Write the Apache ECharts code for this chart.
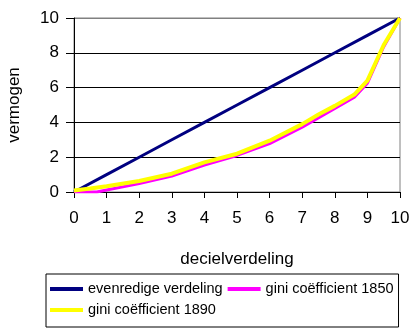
<!DOCTYPE html>
<html><head><meta charset="utf-8">
<script src="https://cdn.jsdelivr.net/npm/echarts@6/dist/echarts.min.js"></script>
<style>html,body{margin:0;padding:0;background:#fff}#c{width:414px;height:332px}</style>
</head><body><div id="c"></div>
<script>
const seriesNames = ['evenredige verdeling', 'gini coëfficient 1850', 'gini coëfficient 1890'];
const evenX = [0, 1, 2, 3, 4, 5, 6, 7, 8, 9, 10];
const evenY = [0, 1, 2, 3, 4, 5, 6, 7, 8, 9, 10];
const gini1850X = [0, 0.7, 1, 2, 3, 4, 5, 6, 7, 8, 8.6, 9, 9.5, 10];
const gini1850Y = [0, 0, 0.12, 0.48, 0.92, 1.55, 2.1, 2.78, 3.72, 4.8, 5.45, 6.25, 8.35, 10];
const gini1890X = [0, 0.5, 1, 2, 3, 4, 5, 6, 7, 7.5, 8, 8.6, 9, 9.5, 10];
const gini1890Y = [0.08, 0.2, 0.33, 0.63, 1.05, 1.7, 2.2, 2.95, 3.9, 4.45, 4.95, 5.6, 6.4, 8.45, 10];
const xTicks = [0, 1, 2, 3, 4, 5, 6, 7, 8, 9, 10];
const yTicks = [0, 2, 4, 6, 8, 10];
const colors = ['#000080', '#FF00FF', '#FFFF00'];

const zip = (xs, ys) => xs.map((x, i) => [x, ys[i]]);
const font = 'Liberation Sans, Arial, sans-serif';
const chart = echarts.init(document.getElementById('c'), null, {renderer: 'canvas'});
chart.setOption({
  animation: false,
  backgroundColor: '#fff',
  grid: {left: 74, right: 14, top: 18, bottom: 140, containLabel: false, outerBoundsMode: 'none',
         show: true, borderColor: '#808080', borderWidth: 1, backgroundColor: 'transparent'},
  xAxis: {
    type: 'value', min: xTicks[0], max: xTicks[xTicks.length - 1], interval: 1,
    name: 'decielverdeling', nameLocation: 'middle', nameGap: 59,
    nameTextStyle: {fontFamily: font, fontSize: 17, color: '#000'},
    axisLine: {show: true, onZero: false, lineStyle: {color: '#000', width: 1}},
    axisTick: {show: true, length: 6, lineStyle: {color: '#000'}},
    axisLabel: {fontFamily: font, fontSize: 17, color: '#000', margin: 18},
    splitLine: {show: false}
  },
  yAxis: {
    type: 'value', min: yTicks[0], max: yTicks[yTicks.length - 1], interval: 2,
    name: 'vermogen', nameLocation: 'middle', nameGap: 51,
    nameTextStyle: {fontFamily: font, fontSize: 17, color: '#000'},
    axisLine: {show: true, lineStyle: {color: '#000', width: 1}},
    axisTick: {show: true, length: 8, lineStyle: {color: '#000'}},
    axisLabel: {fontFamily: font, fontSize: 17, color: '#000', margin: 15},
    splitLine: {show: true, lineStyle: {color: ['#000', '#000', '#000', '#000', '#000', '#808080'], width: 1}}
  },
  legend: {
    left: 46, top: 274, width: 362,
    padding: [7, 5, 9, 4],
    itemGap: 5, itemWidth: 33, itemHeight: 4,
    borderColor: '#000', borderWidth: 1, borderRadius: 0,
    icon: 'rect',
    textStyle: {fontFamily: font, fontSize: 14.5, color: '#000', lineHeight: 16},
    data: seriesNames
  },
  series: [
    {name: seriesNames[0], type: 'line', data: zip(evenX, evenY), showSymbol: false, symbol: 'none', color: colors[0], lineStyle: {width: 3, color: colors[0]}, z: 3},
    {name: seriesNames[1], type: 'line', data: zip(gini1850X, gini1850Y), showSymbol: false, symbol: 'none', color: colors[1], lineStyle: {width: 3, color: colors[1]}, z: 4},
    {name: seriesNames[2], type: 'line', data: zip(gini1890X, gini1890Y), showSymbol: false, symbol: 'none', color: colors[2], lineStyle: {width: 4, color: colors[2]}, z: 5}
  ]
});
</script></body></html>
